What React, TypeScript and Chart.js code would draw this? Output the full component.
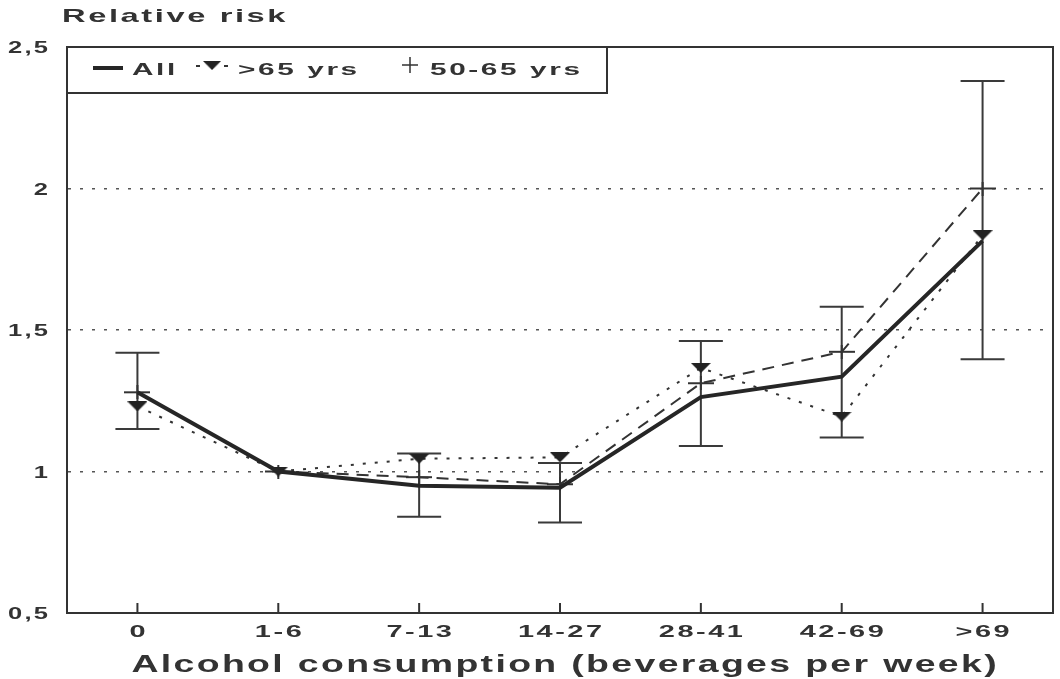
import { useEffect, useRef } from 'react';
import { Chart, registerables } from 'chart.js';

Chart.register(...registerables);

// ---- data ----
const categories = ['0', '1-6', '7-13', '14-27', '28-41', '42-69', '>69'];
const seriesLabels = ['All', '>65 yrs', '50-65 yrs'];
const allRR = [1.28, 1.0, 0.95, 0.943, 1.263, 1.335, 1.815];
const over65RR = [1.23, 1.0, 1.045, 1.05, 1.366, 1.194, 1.835];
const age5065RR = [1.28, 1.0, 0.98, 0.955, 1.312, 1.423, 2.0];
const errLow = [1.15, null, 0.84, 0.82, 1.09, 1.12, 1.397];
const errHigh = [1.42, null, 1.064, 1.03, 1.461, 1.582, 2.38];
const yTickValues = [0.5, 1, 1.5, 2, 2.5];
const yTickLabels = ['0,5', '1', '1,5', '2', '2,5'];
const gridValues = [1, 1.5, 2];
const yTitle = 'Relative risk';
const xTitle = 'Alcohol consumption (beverages per week)';

const INK = '#333333';
const LINE = '#333333';
const FONT = '"Liberation Sans", Arial, sans-serif';

function stretchText(
  ctx: CanvasRenderingContext2D,
  text: string,
  x: number,
  y: number,
  size: number,
  sx: number,
  align: 'left' | 'center' | 'right',
  spacing = 1.5
) {
  ctx.save();
  ctx.font = `bold ${size}px ${FONT}`;
  (ctx as any).letterSpacing = `${spacing}px`;
  ctx.fillStyle = INK;
  ctx.textBaseline = 'alphabetic';
  ctx.textAlign = 'left';
  const w = (ctx.measureText(text).width - spacing) * sx;
  const left = align === 'center' ? x - w / 2 : align === 'right' ? x - w : x;
  ctx.translate(left, y);
  ctx.scale(sx, 1);
  ctx.fillText(text, 0, 0);
  ctx.restore();
}

function makeTriangle(): HTMLCanvasElement {
  const c = document.createElement('canvas');
  c.width = 20;
  c.height = 10;
  const g = c.getContext('2d')!;
  g.fillStyle = '#222';
  g.beginPath();
  g.moveTo(0, 0);
  g.lineTo(20, 0);
  g.lineTo(10, 10);
  g.closePath();
  g.fill();
  return c;
}

function makePlus(): HTMLCanvasElement {
  const c = document.createElement('canvas');
  c.width = 26;
  c.height = 14;
  const g = c.getContext('2d')!;
  g.strokeStyle = '#333';
  g.lineWidth = 2;
  g.beginPath();
  g.moveTo(0, 7);
  g.lineTo(26, 7);
  g.moveTo(13, 0);
  g.lineTo(13, 14);
  g.stroke();
  return c;
}

export default function App() {
  const ref = useRef<HTMLCanvasElement | null>(null);

  useEffect(() => {
    if (!ref.current) return;
    const tri = makeTriangle();
    const plus = makePlus();

    const decor = {
      id: 'decor',
      beforeDatasetsDraw(chart: any) {
        const { ctx, chartArea: a, scales } = chart;
        const x = scales.x;
        const y = scales.y;
        ctx.save();
        ctx.strokeStyle = LINE;
        ctx.lineWidth = 2;
        ctx.setLineDash([]);
        // top & right frame
        ctx.beginPath();
        ctx.moveTo(a.left, a.top);
        ctx.lineTo(a.right, a.top);
        ctx.lineTo(a.right, a.bottom);
        ctx.stroke();
        // inward category ticks
        ctx.beginPath();
        x.ticks.forEach((_t: any, i: number) => {
          const px = x.getPixelForTick(i);
          ctx.moveTo(px, a.bottom);
          ctx.lineTo(px, a.bottom - 10);
        });
        ctx.stroke();
        // error bars
        ctx.strokeStyle = '#3a3a3a';
        ctx.lineWidth = 2;
        categories.forEach((_c, i) => {
          const lo = errLow[i];
          const hi = errHigh[i];
          if (lo == null || hi == null) return;
          const px = x.getPixelForValue(i);
          const pl = y.getPixelForValue(lo);
          const ph = y.getPixelForValue(hi);
          ctx.beginPath();
          ctx.moveTo(px, pl);
          ctx.lineTo(px, ph);
          ctx.moveTo(px - 22, pl);
          ctx.lineTo(px + 22, pl);
          ctx.moveTo(px - 22, ph);
          ctx.lineTo(px + 22, ph);
          ctx.stroke();
        });
        ctx.restore();
      },
      afterDraw(chart: any) {
        const { ctx, chartArea: a, scales } = chart;
        const x = scales.x;
        const y = scales.y;
        ctx.save();
        // axis title (top-left)
        stretchText(ctx, yTitle, 62, 22, 19, 1.72, 'left');
        // y tick labels
        y.ticks.forEach((t: any) => {
          const py = y.getPixelForValue(t.value);
          stretchText(ctx, String(t.label), 48, py + 6, 17, 1.5, 'right');
        });
        // x tick labels
        x.ticks.forEach((_t: any, i: number) => {
          const px = x.getPixelForTick(i);
          stretchText(ctx, String(chart.data.labels[i]), px, 637, 17, 1.7, 'center');
        });
        // x title
        stretchText(ctx, xTitle, (a.left + a.right) / 2 + 4, 672, 24, 1.56, 'center');

        // legend box
        const lx = a.left;
        const ly = a.top;
        const lr = 607;
        const lb = 93;
        ctx.fillStyle = '#fff';
        ctx.fillRect(lx, ly, lr - lx, lb - ly);
        ctx.strokeStyle = LINE;
        ctx.lineWidth = 2;
        ctx.setLineDash([]);
        ctx.strokeRect(lx, ly, lr - lx, lb - ly);
        const ds = chart.data.datasets;
        // All
        ctx.strokeStyle = '#262626';
        ctx.lineWidth = 4;
        ctx.beginPath();
        ctx.moveTo(93, 68);
        ctx.lineTo(123, 68);
        ctx.stroke();
        stretchText(ctx, ds[0].label, 132, 75, 17, 1.75, 'left');
        // >65
        ctx.strokeStyle = LINE;
        ctx.lineWidth = 2;
        ctx.beginPath();
        ctx.moveTo(196, 66);
        ctx.lineTo(200, 66);
        ctx.moveTo(224, 66);
        ctx.lineTo(228, 66);
        ctx.stroke();
        ctx.drawImage(tri, 212 - 9, 66 - 5, 18, 9);
        stretchText(ctx, ds[1].label, 238, 75, 17, 1.75, 'left');
        // 50-65
        ctx.lineWidth = 1.5;
        ctx.beginPath();
        ctx.moveTo(402, 65);
        ctx.lineTo(418, 65);
        ctx.moveTo(410, 57);
        ctx.lineTo(410, 73);
        ctx.stroke();
        stretchText(ctx, ds[2].label, 430, 75, 17, 1.75, 'left');
        ctx.restore();
      },
    };

    const chart = new Chart(ref.current, {
      type: 'line',
      data: {
        labels: categories,
        datasets: [
          {
            label: seriesLabels[0],
            data: allRR,
            borderColor: '#262626',
            borderWidth: 4,
            pointRadius: 0,
            tension: 0,
            fill: false,
          },
          {
            label: seriesLabels[1],
            data: over65RR,
            borderColor: LINE,
            borderWidth: 2,
            borderDash: [3, 9],
            pointStyle: tri as any,
            pointRadius: 5,
            tension: 0,
            fill: false,
          },
          {
            label: seriesLabels[2],
            data: age5065RR,
            borderColor: LINE,
            borderWidth: 2,
            borderDash: [12, 8],
            pointStyle: plus as any,
            pointRadius: 5,
            tension: 0,
            fill: false,
          },
        ],
      },
      options: {
        animation: false,
        responsive: false,
        devicePixelRatio: 1,
        layout: { padding: { left: 0, top: 47, right: 3, bottom: 0 } },
        plugins: {
          legend: { display: false },
          tooltip: { enabled: false },
          title: { display: false },
        },
        scales: {
          x: {
            type: 'category',
            offset: true,
            grid: { display: false, drawTicks: false },
            border: { display: true, color: LINE, width: 2 },
            ticks: { display: false },
            afterFit: (s: any) => {
              s.height = 66;
            },
          },
          y: {
            type: 'linear',
            min: yTickValues[0],
            max: yTickValues[yTickValues.length - 1],
            grid: {
              drawTicks: false,
              lineWidth: 1.5,
              color: (c: any) =>
                c.tick && gridValues.includes(c.tick.value) ? '#555' : 'rgba(0,0,0,0)',
            },
            border: { display: true, color: LINE, width: 2, dash: [3, 9] },
            ticks: {
              display: false,
              stepSize: 0.5,
              callback: (v: any) => {
                const k = yTickValues.indexOf(Number(v));
                return k >= 0 ? yTickLabels[k] : '';
              },
            },
            afterFit: (s: any) => {
              s.width = 67;
            },
          },
        },
      },
      plugins: [decor],
    });

    return () => chart.destroy();
  }, []);

  return (
    <div
      style={{
        position: 'absolute',
        left: 0,
        top: 0,
        width: 1060,
        height: 679,
        background: '#fff',
      }}
    >
      <canvas ref={ref} width={1060} height={679} style={{ display: 'block' }} />
    </div>
  );
}
